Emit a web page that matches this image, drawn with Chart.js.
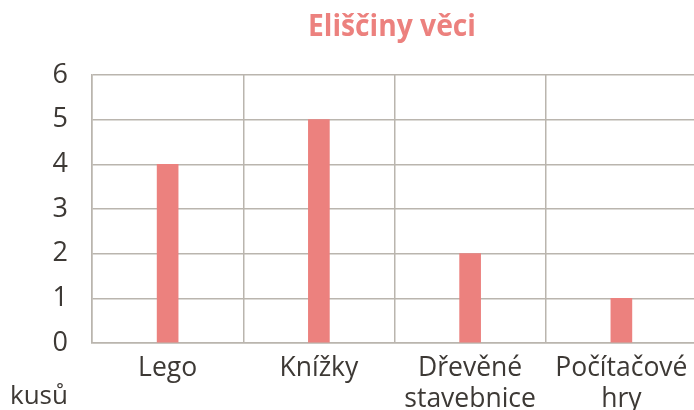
<!DOCTYPE html>
<html>
<head>
<meta charset="utf-8">
<script src="https://cdn.jsdelivr.net/npm/chart.js@4"></script>
<style>
  html, body { margin: 0; padding: 0; background: #fff; overflow: hidden; }
  #wrap { position: relative; width: 700px; height: 410px; }
  #title { position: absolute; left: 292px; width: 200px; top: 4px; text-align: center;
           font: bold 30px "Open Sans", sans-serif; color: #ec817e; transform: scaleX(0.94); }
  #unit { position: absolute; left: 10px; top: 376px; font: 26px "Open Sans", sans-serif; color: #3d3935; }
</style>
</head>
<body>
<div id="wrap">
  <canvas id="chart"></canvas>
  <div id="title"></div>
  <div id="unit">kusů</div>
</div>
<script>
// data
var categories = [['Lego'], ['Knížky'], ['Dřevěné', 'stavebnice'], ['Počítačové', 'hry']];
var counts = [4, 5, 2, 1];
var yMin = 0, yMax = 6, yStep = 1;
var titleText = 'Eliščiny věci';

var pink = '#ec817e';
var gridColor = '#bab5ae';
var textColor = '#3d3935';

document.getElementById('title').textContent = titleText;

var ctx = document.getElementById('chart');
ctx.width = 700;
ctx.height = 410;

new Chart(ctx, {
    type: 'bar',
    data: {
        labels: categories,
        datasets: [{
            data: counts,
            backgroundColor: pink,
            barThickness: 21
        }]
    },
    options: {
        responsive: false,
        animation: false,
        layout: { padding: { left: 0, right: 3, top: 75, bottom: 0 } },
        plugins: {
            legend: { display: false },
            tooltip: { enabled: false },
            title: { display: false }
        },
        scales: {
            x: {
                grid: { color: gridColor, lineWidth: 1.5, drawTicks: false },
                border: { color: gridColor, width: 1.5 },
                ticks: {
                    color: textColor,
                    font: { family: 'Open Sans', size: 26.5, lineHeight: 1.17 },
                    padding: 10,
                    maxRotation: 0,
                    autoSkip: false
                },
                afterFit: function (scale) { scale.height = 67; }
            },
            y: {
                min: yMin,
                max: yMax,
                grid: { color: gridColor, lineWidth: 1.5, drawTicks: false },
                border: { color: gridColor, width: 1.5 },
                ticks: {
                    stepSize: yStep,
                    color: textColor,
                    font: { family: 'Open Sans', size: 27 },
                    padding: 24
                },
                afterFit: function (scale) { scale.width = 92; }
            }
        }
    }
});
</script>
</body>
</html>
